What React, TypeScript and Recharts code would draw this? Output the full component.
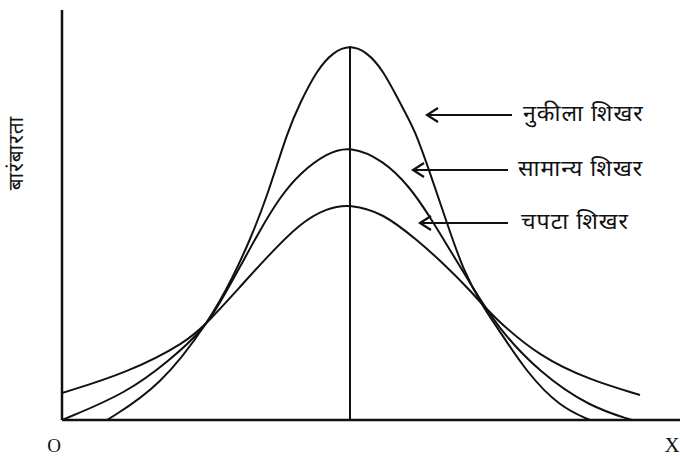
import React from 'react';
import { LineChart, Line, XAxis, YAxis, ReferenceLine } from 'recharts';

// points (x along the base, y = height above the base)
const peakedCurve = [
  { x: 45, y: 0 }, { x: 98, y: 33 }, { x: 148, y: 100 }, { x: 171, y: 143 },
  { x: 188, y: 180 }, { x: 205, y: 223 }, { x: 226, y: 290 }, { x: 238, y: 317 },
  { x: 255, y: 350 }, { x: 271, y: 368 }, { x: 288, y: 375 }, { x: 305, y: 368 },
  { x: 321, y: 350 }, { x: 338, y: 317 }, { x: 353, y: 290 }, { x: 368, y: 247 },
  { x: 385, y: 197 }, { x: 401, y: 150 }, { x: 421, y: 113 }, { x: 435, y: 93 },
  { x: 465, y: 47 }, { x: 498, y: 13 }, { x: 528, y: 0 },
];

const normalCurve = [
  { x: 0, y: 0 }, { x: 65, y: 27 }, { x: 108, y: 60 }, { x: 141, y: 90 },
  { x: 158, y: 117 }, { x: 178, y: 153 }, { x: 198, y: 190 }, { x: 218, y: 223 },
  { x: 238, y: 247 }, { x: 265, y: 267 }, { x: 288, y: 274 }, { x: 321, y: 260 },
  { x: 348, y: 233 }, { x: 368, y: 203 }, { x: 388, y: 170 }, { x: 408, y: 137 },
  { x: 435, y: 93 }, { x: 478, y: 47 }, { x: 528, y: 13 }, { x: 570, y: 0 },
];

const flatCurve = [
  { x: 0, y: 27 }, { x: 65, y: 47 }, { x: 125, y: 78 }, { x: 146, y: 98 },
  { x: 178, y: 133 }, { x: 205, y: 163 }, { x: 238, y: 197 }, { x: 265, y: 212 },
  { x: 288, y: 216 }, { x: 321, y: 207 }, { x: 355, y: 180 }, { x: 381, y: 157 },
  { x: 408, y: 130 }, { x: 431, y: 103 }, { x: 478, y: 63 }, { x: 528, y: 40 },
  { x: 578, y: 25 },
];

const centreX = 288;
const peakY = 374;

const labels = ['नुकीला शिखर', 'सामान्य शिखर', 'चपटा शिखर'];
const yLabel = 'बारंबारता';

const ink = '#111';
const hindiFont = "'Noto Sans Devanagari', 'Lohit Devanagari', 'Noto Serif Devanagari', 'Noto Sans', sans-serif";
const serifFont = "'Liberation Serif', 'DejaVu Serif', serif";

// arrows: [headX, tailX, y, textX]
const arrows = [
  [427, 512, 115, 523],
  [413, 508, 170, 518],
  [420, 508, 223, 521],
];

export default function App() {
  return (
    <div style={{ position: 'absolute', left: 0, top: 0, width: 680, height: 458, background: '#fff' }}>
      <LineChart width={680} height={458} margin={{ top: 10, right: 0, bottom: 0, left: 0 }}>
        <XAxis
          type="number"
          dataKey="x"
          domain={[0, 618]}
          height={38}
          tick={false}
          tickLine={false}
          axisLine={{ stroke: ink, strokeWidth: 2.5 }}
          allowDataOverflow
        />
        <YAxis
          type="number"
          dataKey="y"
          domain={[0, 410]}
          width={62}
          tick={false}
          tickLine={false}
          axisLine={{ stroke: ink, strokeWidth: 2.5 }}
          allowDataOverflow
        />
        <ReferenceLine
          segment={[{ x: centreX, y: 0 }, { x: centreX, y: peakY }]}
          stroke={ink}
          strokeWidth={2}
        />
        <Line data={peakedCurve} dataKey="y" type="basis" stroke={ink} strokeWidth={2} dot={false} isAnimationActive={false} />
        <Line data={normalCurve} dataKey="y" type="basis" stroke={ink} strokeWidth={2} dot={false} isAnimationActive={false} />
        <Line data={flatCurve} dataKey="y" type="basis" stroke={ink} strokeWidth={2} dot={false} isAnimationActive={false} />
      </LineChart>
      <svg width={680} height={458} style={{ position: 'absolute', left: 0, top: 0, pointerEvents: 'none' }}>
        {arrows.map(([hx, tx, y, textX], i) => (
          <g key={i}>
            <line x1={hx} y1={y} x2={tx} y2={y} stroke={ink} strokeWidth={2} />
            <polyline points={`${hx + 11},${y - 7} ${hx},${y} ${hx + 11},${y + 7}`} fill="none" stroke={ink} strokeWidth={2.2} />
            <text x={textX} y={y} dominantBaseline="middle" fontSize={23} letterSpacing={1} fontFamily={hindiFont} fill={ink}>
              {labels[i]}
            </text>
          </g>
        ))}
        <text
          x={17}
          y={153}
          transform="rotate(-90 17 153)"
          textAnchor="middle"
          dominantBaseline="middle"
          fontSize={21}
          letterSpacing={1}
          fontFamily={hindiFont}
          fill={ink}
        >
          {yLabel}
        </text>
        <text x={54} y={452} textAnchor="middle" fontSize={19} fontFamily={serifFont} fill={ink}>O</text>
        <text x={672} y={452} textAnchor="middle" fontSize={21} fontFamily={serifFont} fill={ink}>X</text>
      </svg>
    </div>
  );
}
